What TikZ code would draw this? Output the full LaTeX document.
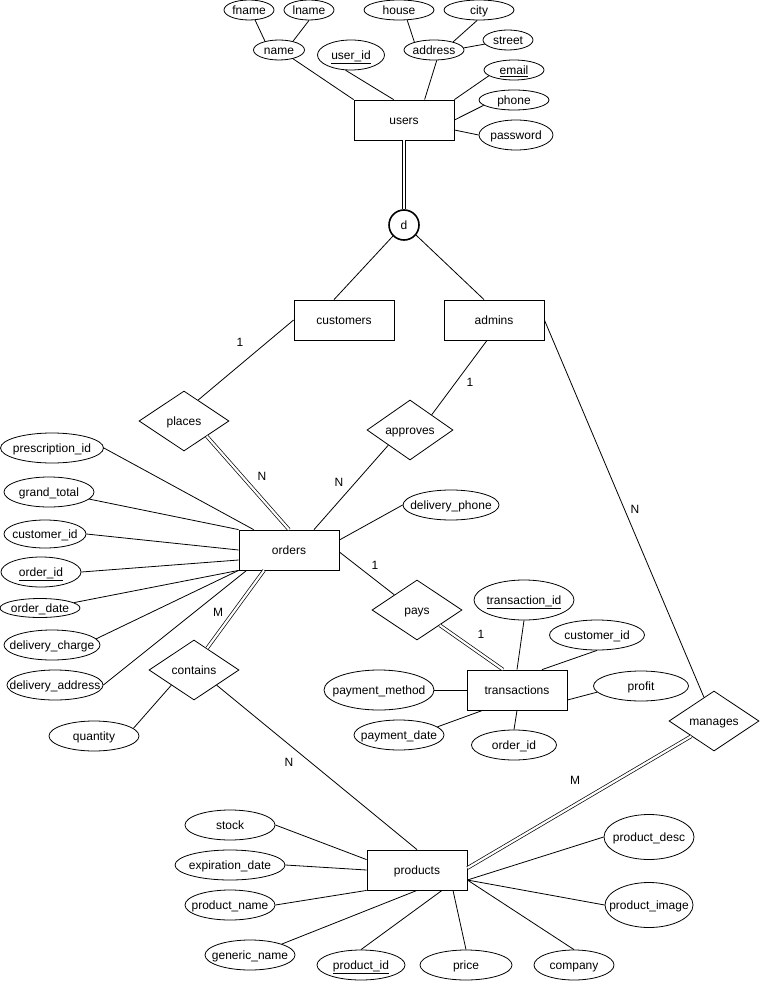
\documentclass[tikz,border=0pt]{standalone}
\usepackage{fontspec}
\setmainfont{Liberation Sans}
\usetikzlibrary{shapes.geometric}
\begin{document}
\begin{tikzpicture}[x=1pt,y=-1pt, line width=0.8pt, font=\fontsize{12}{14}\selectfont,
  every node/.append style={text height=9.6pt, text depth=1pt},
  ent/.style={draw, rectangle, minimum width=100pt, minimum height=40pt, inner sep=0pt},
  att/.style={draw, ellipse, inner sep=0pt},
  rel/.style={draw, diamond, inner sep=0pt, minimum width=90pt, minimum height=60pt},
  dbl/.style={double, double distance=2.2pt, line width=0.7pt},
  card/.style={inner sep=0pt}]
\useasboundingbox (0,0) rectangle (760,981);

% entities
\node[ent] (users) at (404,120) {users};
\node[ent] (customers) at (344,320) {customers};
\node[ent] (admins) at (494,320) {admins};
\node[ent] (orders) at (289,550) {orders};
\node[ent] (transactions) at (517,690) {transactions};
\node[ent] (products) at (417,870) {products};

% specialisation circle
\node[draw, circle, line width=1.6pt, minimum size=30pt, inner sep=0pt] (d) at (404,225) {\makebox[0pt]{d}};

% relationships
\node[rel] (places) at (184,421) {\makebox[0pt]{places}};
\node[rel, minimum width=86pt] (approves) at (410,430) {\makebox[0pt]{approves}};
\node[rel] (pays) at (417,610) {\makebox[0pt]{pays}};
\node[rel] (contains) at (194,670) {\makebox[0pt]{contains}};
\node[rel] (manages) at (714,721) {\makebox[0pt]{manages}};

% users attributes
\node[att, minimum width=50pt, minimum height=20pt] (fname) at (249,10) {\makebox[0pt]{fname}};
\node[att, minimum width=50pt, minimum height=20pt] (lname) at (309,10) {\makebox[0pt]{lname}};
\node[att, minimum width=51pt, minimum height=20pt] (name) at (279,50) {\makebox[0pt]{name}};
\node[att, minimum width=67pt, minimum height=30pt] (userid) at (351,55) {\makebox[0pt]{\underline{user\_id}}};
\node[att, minimum width=70pt, minimum height=20pt] (house) at (399,10) {\makebox[0pt]{house}};
\node[att, minimum width=70pt, minimum height=20pt] (city) at (479,10) {\makebox[0pt]{city}};
\node[att, minimum width=60pt, minimum height=20pt] (address) at (434,50) {\makebox[0pt]{address}};
\node[att, minimum width=50pt, minimum height=20pt] (street) at (508,40) {\makebox[0pt]{street}};
\node[att, minimum width=60pt, minimum height=20pt] (email) at (514,70) {\makebox[0pt]{\underline{email}}};
\node[att, minimum width=70pt, minimum height=20pt] (phone) at (514,100) {\makebox[0pt]{phone}};
\node[att, minimum width=74pt, minimum height=30pt] (password) at (516,135) {\makebox[0pt]{password}};

% orders attributes
\node[att, minimum width=103pt, minimum height=30pt] (prescription) at (52,448) {\makebox[0pt]{prescription\_id}};
\node[att, minimum width=90pt, minimum height=30pt] (grandtotal) at (49,492) {\makebox[0pt]{grand\_total}};
\node[att, minimum width=82pt, minimum height=28pt] (ocustid) at (45,534) {\makebox[0pt]{customer\_id}};
\node[att, minimum width=80pt, minimum height=30pt] (orderid) at (41,572) {\makebox[0pt]{\underline{order\_id}}};
\node[att, minimum width=80pt, minimum height=19pt] (orderdate) at (40,608) {\makebox[0pt]{order\_date}};
\node[att, minimum width=96pt, minimum height=30pt] (dcharge) at (52,645) {\makebox[0pt]{delivery\_charge}};
\node[att, minimum width=96pt, minimum height=30pt] (daddress) at (55,685) {\makebox[0pt]{delivery\_address}};
\node[att, minimum width=96pt, minimum height=30pt] (dphone) at (451,505) {\makebox[0pt]{delivery\_phone}};
\node[att, minimum width=90pt, minimum height=30pt] (quantity) at (94,736) {\makebox[0pt]{quantity}};

% transactions attributes
\node[att, minimum width=100pt, minimum height=40pt] (transid) at (524,600) {\makebox[0pt]{\underline{transaction\_id}}};
\node[att, minimum width=95pt, minimum height=30pt] (tcustid) at (597,635) {\makebox[0pt]{customer\_id}};
\node[att, minimum width=95pt, minimum height=30pt] (profit) at (641,686) {\makebox[0pt]{profit}};
\node[att, minimum width=110pt, minimum height=40pt] (paymethod) at (379,690) {\makebox[0pt]{payment\_method}};
\node[att, minimum width=90pt, minimum height=30pt] (paydate) at (399,735) {\makebox[0pt]{payment\_date}};
\node[att, minimum width=85pt, minimum height=30pt] (torderid) at (514,745) {\makebox[0pt]{order\_id}};

% products attributes
\node[att, minimum width=90pt, minimum height=30pt] (stock) at (230,825) {\makebox[0pt]{stock}};
\node[att, minimum width=110pt, minimum height=30pt] (expdate) at (230,865) {\makebox[0pt]{expiration\_date}};
\node[att, minimum width=90pt, minimum height=30pt] (pname) at (230,905) {\makebox[0pt]{product\_name}};
\node[att, minimum width=90pt, minimum height=30pt] (gname) at (250,955) {\makebox[0pt]{generic\_name}};
\node[att, minimum width=88pt, minimum height=30pt] (prodid) at (361,965) {\makebox[0pt]{\underline{product\_id}}};
\node[att, minimum width=92pt, minimum height=30pt] (price) at (466,965) {\makebox[0pt]{price}};
\node[att, minimum width=80pt, minimum height=30pt] (company) at (574,965) {\makebox[0pt]{company}};
\node[att, minimum width=90pt, minimum height=45pt] (pdesc) at (649,837) {\makebox[0pt]{product\_desc}};
\node[att, minimum width=88pt, minimum height=45pt] (pimage) at (649,905) {\makebox[0pt]{product\_image}};

% cardinality labels
\node[card] (k1) at (240,342) {1};
\node[card] (k2) at (262,476) {N};
\node[card] (k3) at (470,382) {1};
\node[card] (k4) at (339,482) {N};
\node[card] (k5) at (375,565) {1};
\node[card] (k6) at (481,634) {1};
\node[card] (k7) at (635,509) {N};
\node[card] (k8) at (575,780) {M};
\node[card] (k9) at (218,612) {M};
\node[card] (k10) at (289,762) {N};

% users attribute lines
\draw (name.-32) -- (users.north west);
\draw (fname.-59) -- (name.148);
\draw (lname.south) -- (name.32);
\draw (userid.-110) -- ([xshift=40pt]users.north west);
\draw (address.-75) -- ([xshift=71pt]users.north west);
\draw (house.-51) -- (address.158);
\draw (city.-100) -- (address.23);
\draw (street.190) -- (address.4);
\draw (email.193) -- (users.north east);
\draw (phone.190) -- (users.east);
\draw (password.west) -- ([yshift=-10pt]users.east);

% specialisation
\draw[dbl] (users.south) -- (d.north);
\draw (d.-135) -- ([xshift=-10pt]customers.north);
\draw (d.-40) -- ([xshift=-10pt]admins.north);

% relationships
\draw (customers.west) -- (places.56);
\draw[dbl] (places.south east) -- (orders.north);
\draw ([xshift=-7pt]admins.south) -- (approves.north east);
\draw (approves.south west) -- ([xshift=25pt]orders.north);
\draw (admins.east) -- (manages.113);
\draw[dbl] (manages.south west) -- ([yshift=2pt]products.east);
\draw ([yshift=-2pt]orders.east) -- (pays.north west);
\draw[dbl] (pays.south east) -- ([xshift=-14pt]transactions.north);
\draw[dbl] (contains.59) -- ([xshift=-25pt]orders.south);
\draw (contains.south east) -- (products.north);
\draw (contains.south west) -- (quantity.11);

% orders attribute lines
\draw (prescription.east) -- ([xshift=15pt]orders.north west);
\draw (grandtotal.-10) -- (orders.north west);
\draw (ocustid.east) -- (orders.west);
\draw (orderid.east) -- ([yshift=-10pt]orders.west);
\draw (orderdate.9) -- (orders.south west);
\draw (dcharge.8) -- (orders.south west);
\draw (daddress.east) -- ([xshift=8pt]orders.south west);
\draw (dphone.west) -- ([yshift=10pt]orders.east);

% transactions attribute lines
\draw (transid.south) -- (transactions.north);
\draw (tcustid.south) -- ([xshift=25pt]transactions.north);
\draw (profit.188) -- ([yshift=-10pt]transactions.east);
\draw (paymethod.east) -- (transactions.west);
\draw (paydate.12) -- ([xshift=16pt]transactions.south west);
\draw (torderid.north) -- (transactions.south);

% products attribute lines
\draw (stock.east) -- ([yshift=-10pt]products.north west);
\draw (expdate.east) -- (products.west);
\draw (pname.east) -- (products.south west);
\draw (gname.19) -- (products.south);
\draw (prodid.north) -- ([xshift=25pt]products.south);
\draw (price.north) -- ([xshift=36pt]products.south);
\draw (company.north) -- ([yshift=-10pt]products.east);
\draw (pimage.west) -- ([yshift=-10pt]products.east);
\draw (pdesc.west) -- ([yshift=-10pt]products.east);
\end{tikzpicture}
\end{document}
